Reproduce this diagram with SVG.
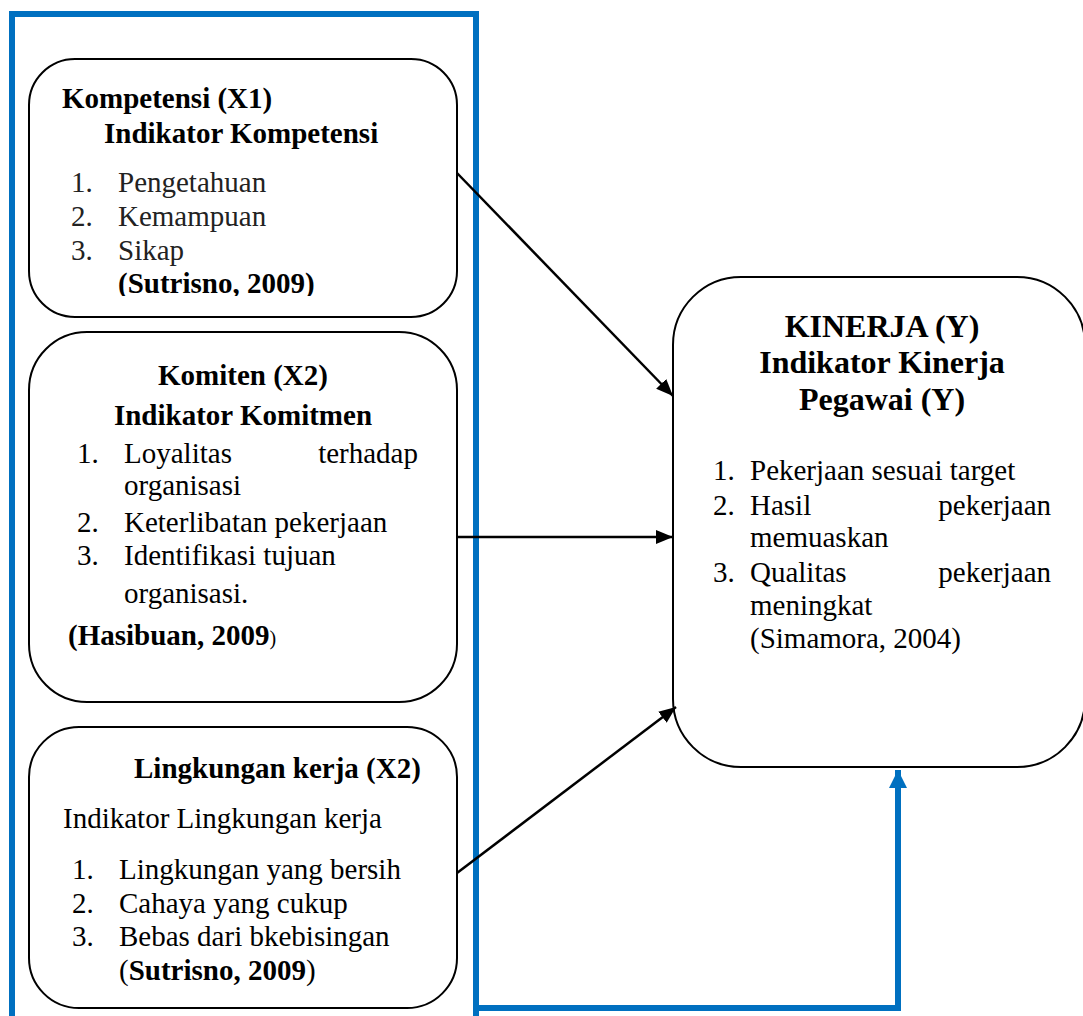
<svg xmlns="http://www.w3.org/2000/svg" width="1083" height="1016" viewBox="0 0 1083 1016">
<style>
text{font-family:"Liberation Serif","Times New Roman",serif;font-size:29px;fill:#000}
.b{font-weight:bold}
.t{font-size:32px;font-weight:bold}
.g{fill:#222}
.box{fill:#fff;stroke:#000;stroke-width:2}
.con{fill:none;stroke:#000;stroke-width:2.5}
.blue{fill:none;stroke:#0070C0;stroke-width:6}
</style>
<defs>
<marker id="ah" markerUnits="userSpaceOnUse" markerWidth="18" markerHeight="14" refX="17" refY="7" orient="auto">
<path d="M0,0 L17,7 L0,14 z" fill="#000"/>
</marker>
<marker id="bh" markerUnits="userSpaceOnUse" markerWidth="20" markerHeight="20" refX="18" refY="9" orient="auto">
<path d="M0,0 L18,9 L0,18 z" fill="#0070C0"/>
</marker>
<clipPath id="c1"><rect x="0" y="0" width="480" height="296"/></clipPath>
</defs>
<g id="frame">
<path class="blue" d="M12,1020 V14 H476 V1020"/>
</g>
<g id="n1">
<rect class="box" x="29" y="59" width="428" height="258" rx="46"/>
<text class="b" x="62" y="108">Kompetensi (X1)</text>
<text class="b" x="104" y="143">Indikator Kompetensi</text>
<text class="g" x="71" y="192">1.</text><text class="g" x="118" y="192">Pengetahuan</text>
<text class="g" x="71" y="226">2.</text><text class="g" x="118" y="226">Kemampuan</text>
<text class="g" x="71" y="260">3.</text><text class="g" x="118" y="260">Sikap</text>
<text class="b" x="118" y="293" clip-path="url(#c1)">(Sutrisno, 2009)</text>
</g>
<g id="n2">
<rect class="box" x="29" y="332" width="428" height="370" rx="58"/>
<text class="b" x="243" y="385" text-anchor="middle">Komiten (X2)</text>
<text class="b" x="243" y="425" text-anchor="middle">Indikator Komitmen</text>
<text x="77" y="463">1.</text><text x="124" y="463">Loyalitas</text><text x="418" y="463" text-anchor="end">terhadap</text>
<text x="124" y="495">organisasi</text>
<text x="77" y="532">2.</text><text x="124" y="532">Keterlibatan pekerjaan</text>
<text x="77" y="565">3.</text><text x="124" y="565">Identifikasi tujuan</text>
<text x="124" y="603">organisasi.</text>
<text x="68" y="645"><tspan class="b">(Hasibuan, 2009</tspan><tspan font-size="20">)</tspan></text>
</g>
<g id="n3">
<rect class="box" x="29" y="727" width="428" height="281" rx="50"/>
<text class="b" x="134" y="778">Lingkungan kerja (X2)</text>
<text x="63" y="828">Indikator Lingkungan kerja</text>
<text x="72" y="879">1.</text><text x="119" y="879">Lingkungan yang bersih</text>
<text x="72" y="913">2.</text><text x="119" y="913">Cahaya yang cukup</text>
<text x="72" y="946">3.</text><text x="119" y="946">Bebas dari bkebisingan</text>
<text x="119" y="980">(<tspan class="b">Sutrisno, 2009</tspan>)</text>
</g>
<g id="n4">
<rect class="box" x="673" y="277" width="412" height="490" rx="68"/>
<text class="t" x="882" y="337" text-anchor="middle">KINERJA (Y)</text>
<text class="t" x="882" y="373" text-anchor="middle">Indikator Kinerja</text>
<text class="t" x="882" y="410" text-anchor="middle">Pegawai (Y)</text>
<text x="713" y="480">1.</text><text x="750" y="480">Pekerjaan sesuai target</text>
<text x="713" y="515">2.</text><text x="750" y="515">Hasil</text><text x="1051" y="515" text-anchor="end">pekerjaan</text>
<text x="750" y="547">memuaskan</text>
<text x="713" y="582">3.</text><text x="750" y="582">Qualitas</text><text x="1051" y="582" text-anchor="end">pekerjaan</text>
<text x="750" y="615">meningkat</text>
<text x="750" y="648">(Simamora, 2004)</text>
</g>
<g id="connectors">
<line class="con" x1="457" y1="173" x2="673" y2="396" marker-end="url(#ah)"/>
<line class="con" x1="457" y1="537" x2="673" y2="537" marker-end="url(#ah)"/>
<line class="con" x1="457" y1="873" x2="676" y2="707" marker-end="url(#ah)"/>
<path class="blue" d="M473,1008 H898 V770" marker-end="url(#bh)"/>
</g>
</svg>
